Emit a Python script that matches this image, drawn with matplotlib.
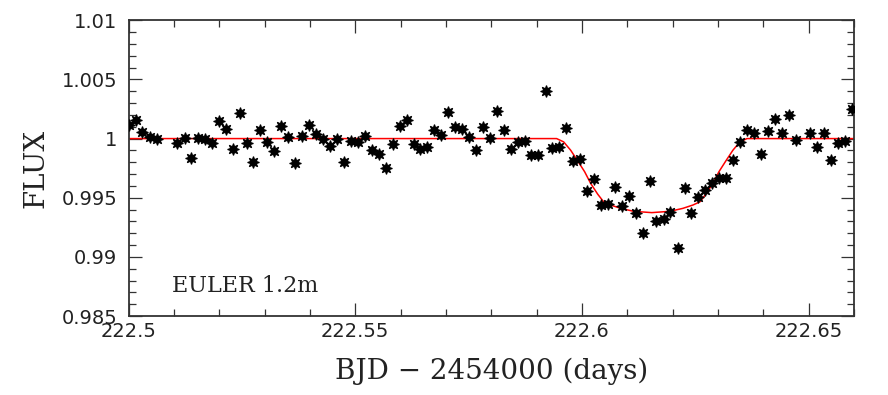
import matplotlib
matplotlib.use("Agg")
import matplotlib.pyplot as plt
from matplotlib.ticker import MultipleLocator, FuncFormatter

# ---- data ----
bjd = [222.50013, 222.50155, 222.50300, 222.50464, 222.50619, 222.51074, 222.51237,
       222.51383, 222.51525, 222.51686, 222.51841, 222.51989, 222.52143, 222.52298,
       222.52453, 222.52607, 222.52753, 222.52908, 222.53062, 222.53210, 222.53365,
       222.53520, 222.53674, 222.53829, 222.53984, 222.54138, 222.54293, 222.54448,
       222.54602, 222.54750, 222.54905, 222.55060, 222.55214, 222.55360, 222.55515,
       222.55670, 222.55824, 222.55979, 222.56134, 222.56288, 222.56436, 222.56591,
       222.56739, 222.56894, 222.57048, 222.57203, 222.57358, 222.57512, 222.57658,
       222.57813, 222.57968, 222.58122, 222.58270, 222.58425, 222.58580, 222.58734,
       222.58882, 222.59037, 222.59198, 222.59346, 222.59501, 222.59656, 222.59810,
       222.59965, 222.60111, 222.60265, 222.60420, 222.60575, 222.60729, 222.60884,
       222.61039, 222.61187, 222.61341, 222.61496, 222.61644, 222.61799, 222.61949,
       222.62108, 222.62263, 222.62413, 222.62563, 222.62718, 222.62873, 222.63025,
       222.63182, 222.63337, 222.63485, 222.63639, 222.63794, 222.63949, 222.64103,
       222.64258, 222.64413, 222.64561, 222.64715, 222.65025, 222.65179, 222.65334,
       222.65489, 222.65643, 222.65798, 222.65953]

flux = [1.00113, 1.00161, 1.00054, 1.00012, 0.99995, 0.99964, 1.00001,
        0.99834, 1.00001, 0.99997, 0.99959, 1.00150, 1.00082, 0.99916,
        1.00220, 0.99964, 0.99798, 1.00071, 0.99970, 0.99891, 1.00105,
        1.00014, 0.99790, 1.00020, 1.00111, 1.00037, 0.99995, 0.99936,
        0.99997, 0.99798, 0.99976, 0.99970, 1.00026, 0.99902, 0.99868,
        0.99753, 0.99953, 1.00107, 1.00153, 0.99953, 0.99916, 0.99927,
        1.00071, 1.00029, 1.00223, 1.00099, 1.00077, 1.00012, 0.99900,
        1.00096, 1.00009, 1.00234, 1.00074, 0.99910, 0.99967, 0.99976,
        0.99857, 0.99857, 1.00403, 0.99919, 0.99927, 1.00088, 0.99809,
        0.99826, 0.99558, 0.99657, 0.99440, 0.99448, 0.99592, 0.99426,
        0.99511, 0.99370, 0.99198, 0.99640, 0.99300, 0.99317, 0.99378,
        0.99074, 0.99584, 0.99372, 0.99505, 0.99564, 0.99628, 0.99663,
        0.99666, 0.99820, 0.99967, 1.00071, 1.00043, 0.99866, 1.00060,
        1.00164, 1.00043, 1.00198, 0.99989, 1.00046, 0.99925, 1.00048,
        0.99820, 0.99964, 0.99976, 1.00251]

model_bjd = [222.50000, 222.59441, 222.59596, 222.59750, 222.59905, 222.60060,
             222.60192, 222.60347, 222.60479, 222.60634, 222.60855, 222.61142,
             222.61540, 222.61938, 222.62225, 222.62446, 222.62601, 222.62733,
             222.62888, 222.63020, 222.63175, 222.63330, 222.63484, 222.63639,
             222.66000]
model_flux = [1.00000, 1.00000, 0.99972, 0.99902, 0.99812, 0.99719,
              0.99621, 0.99530, 0.99465, 0.99438, 0.99410, 0.99385,
              0.99374, 0.99385, 0.99410, 0.99438, 0.99465, 0.99530,
              0.99621, 0.99719, 0.99812, 0.99902, 0.99972, 1.00000,
              1.00000]

yticks = [0.985, 0.99, 0.995, 1.0, 1.005, 1.01]
xticks = [222.5, 222.55, 222.6, 222.65]
xlabel = "BJD \u2212 2454000 (days)"
ylabel = "FLUX"
label_text = "EULER 1.2m"

fig = plt.figure(figsize=(8.88, 3.95), dpi=100)
ax = fig.add_axes([0.1448, 0.2, 0.8169, 0.7486])

ax.plot(model_bjd, model_flux, color="#ff0000", lw=1.1, zorder=2)
ax.plot(bjd, flux, linestyle="none", marker=(8, 1, 0), markersize=8.5,
        color="black", markeredgewidth=0.8, zorder=3, clip_on=True)

ax.set_xlim(222.5, 222.66)
ax.set_ylim(0.985, 1.01)
ax.set_xticks(xticks)
ax.set_yticks(yticks)
ax.xaxis.set_minor_locator(MultipleLocator(0.01))
ax.yaxis.set_minor_locator(MultipleLocator(0.001))
fmt = FuncFormatter(lambda v, p: "%g" % round(v, 4))
ax.xaxis.set_major_formatter(fmt)
ax.yaxis.set_major_formatter(fmt)

ax.tick_params(which="both", direction="in", top=True, right=True,
               color="#333333", width=0.9)
ax.tick_params(which="major", length=9.5)
ax.tick_params(which="minor", length=4.8)
ax.tick_params(axis="y", which="major", pad=8)
ax.tick_params(axis="x", which="major", pad=4)
for lab in ax.get_xticklabels() + ax.get_yticklabels():
    lab.set_family("DejaVu Sans")
    lab.set_fontsize(14)
    lab.set_color("#222222")
for sp in ax.spines.values():
    sp.set_color("#333333")
    sp.set_linewidth(1.3)

ax.set_xlabel(xlabel, family="DejaVu Serif", fontsize=20, color="#222222",
              labelpad=12)
ax.set_ylabel(ylabel, family="DejaVu Serif", fontsize=20, color="#222222",
              labelpad=9)
ax.text(0.06, 0.1, label_text, transform=ax.transAxes, family="DejaVu Serif",
        fontsize=16, color="#222222", va="center", ha="left")

fig.savefig("out.png", dpi=100)
